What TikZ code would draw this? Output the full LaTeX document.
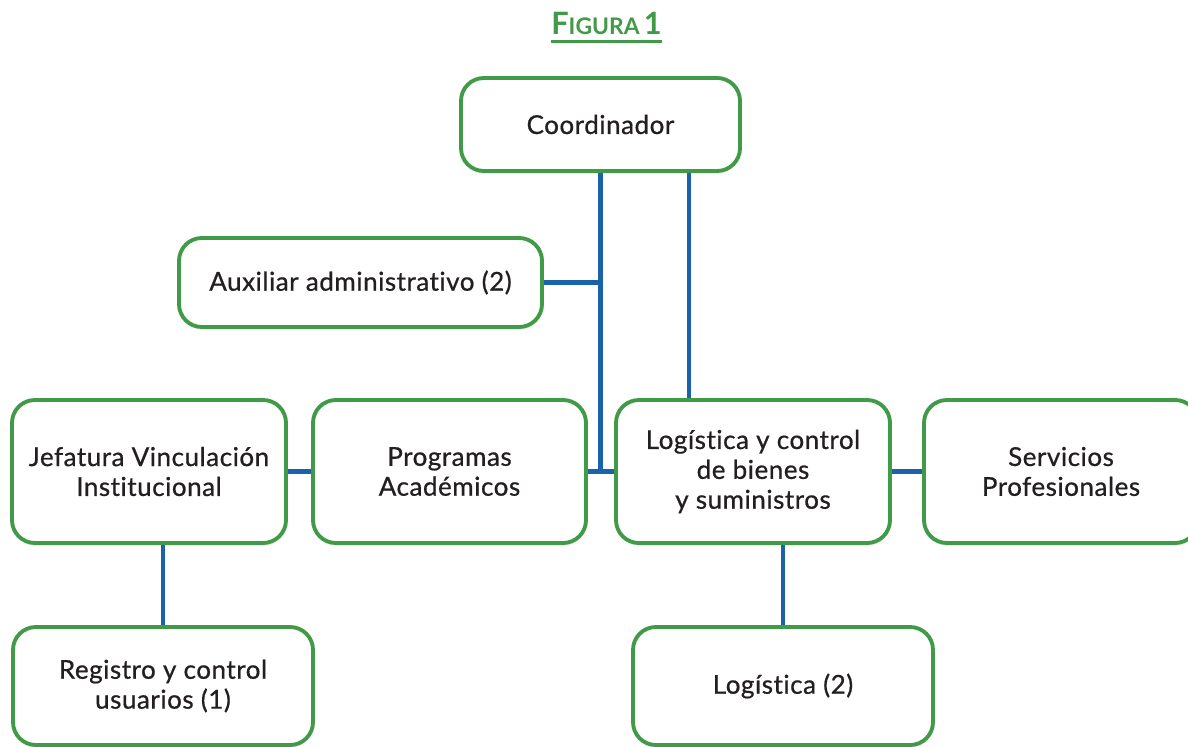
\documentclass[tikz,border=0pt]{standalone}
\usepackage{fontspec}
\setmainfont{Lato}
\newfontfamily\boxfont{Lato}[FakeBold=0.7, LetterSpace=2, Ligatures={NoCommon}]
\usetikzlibrary{shadows,backgrounds}

\definecolor{boxgreen}{HTML}{409A47}
\definecolor{lineblue}{HTML}{1A62AA}
\definecolor{textdark}{HTML}{231F20}

\tikzset{
    orgbox/.style={draw=boxgreen, line width=2.2pt, rounded corners=13pt, fill=white,
        align=center, text=textdark, font=\boxfont\fontsize{14.8}{17}\selectfont,
        drop shadow={shadow xshift=0pt, shadow yshift=-1.5pt, opacity=0.12}},
    orgline/.style={draw=lineblue, line width=2.6pt}
}

\begin{document}
\begin{tikzpicture}

    % Fix the size of the page
    \useasboundingbox (0,0) rectangle (23.76,-14.92);

    % Title
    \node[inner sep=0pt, text=boxgreen, font=\bfseries] (title) at (12.13,-0.46)
        {{\fontsize{17.5}{17}\selectfont F}{\fontsize{13}{13}\selectfont IGURA} {\fontsize{17.5}{17}\selectfont 1}};
    \draw[boxgreen, line width=1.6pt] ([yshift=-4pt]title.south west) -- ([yshift=-4pt]title.south east);

    % Boxes of the chart
    \node[orgbox, minimum width=5.58cm, minimum height=1.86cm] (coord) at (12.01,-2.49) {Coordinador};
    \node[orgbox, minimum width=7.26cm, minimum height=1.78cm] (aux) at (7.21,-5.65) {Auxiliar administrativo (2)};
    \node[orgbox, minimum width=5.48cm, minimum height=2.86cm] (jef) at (2.98,-9.43) {Jefatura Vinculación\\Institucional};
    \node[orgbox, minimum width=5.46cm, minimum height=2.86cm] (prog) at (8.99,-9.43) {Programas\\Académicos};
    \node[orgbox, minimum width=5.48cm, minimum height=2.86cm] (logc) at (15.06,-9.43) {Logística y control\\de bienes\\y suministros};
    \node[orgbox, minimum width=5.48cm, minimum height=2.86cm] (serv) at (21.22,-9.43) {Servicios\\Profesionales};
    \node[orgbox, minimum width=6.0cm, minimum height=2.36cm] (reg) at (3.26,-13.72) {Registro y control\\usuarios (1)};
    \node[orgbox, minimum width=6.0cm, minimum height=2.36cm] (log) at (15.66,-13.72) {Logística (2)};

    % Second line down from the coordinator
    \coordinate (cr) at (13.78,-3.42);

    % Connectors behind the boxes
    \begin{scope}[on background layer]
        \draw[orgline] (coord.south) -- (coord.south |- logc.west);
        \draw[orgline] (cr) -- (cr |- logc.north);
        \draw[orgline] (aux.east) -- (aux.east -| coord.south);
        \draw[orgline] (jef.east) -- (prog.west);
        \draw[orgline] (prog.east) -- (logc.west);
        \draw[orgline] (logc.east) -- (serv.west);
        \draw[orgline] (reg.north) -- (reg.north |- jef.south);
        \draw[orgline] (log.north) -- (log.north |- logc.south);
    \end{scope}

\end{tikzpicture}
\end{document}
